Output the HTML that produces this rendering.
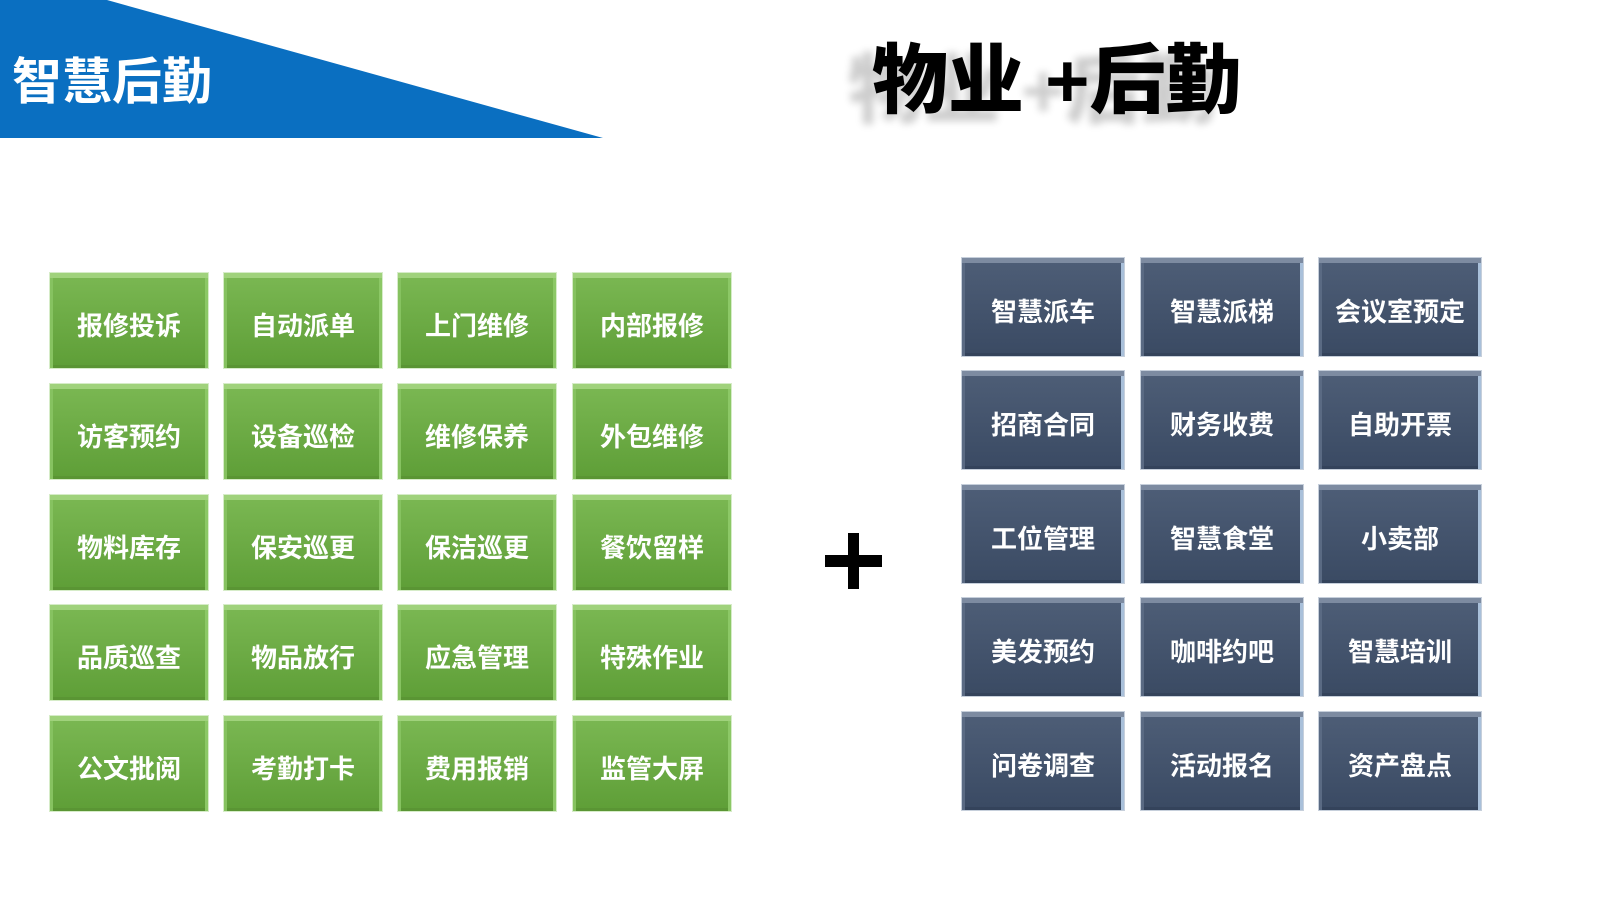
<!DOCTYPE html>
<html><head><meta charset="utf-8">
<style>
html,body{margin:0;padding:0;}
body{width:1600px;height:900px;position:relative;background:#fff;overflow:hidden;font-family:"Liberation Sans","Noto Sans CJK SC",sans-serif;}
.t{position:absolute;box-sizing:border-box;color:#fff;font-weight:bold;font-size:26px;display:flex;align-items:center;justify-content:center;padding-top:7px;letter-spacing:0px;font-family:"Liberation Sans","Noto Sans CJK SC",sans-serif;}
.g{width:158px;height:95px;background:linear-gradient(#7bb853,#5e9e37);
 box-shadow:inset 0 5px 0 #a0d27c, inset 3px 0 0 #86c260, inset -3px 0 0 #8cc866, inset 0 -3px 0 #5a9534, 0 0 0 1px #d6ecc8;}
.b{width:162px;height:98px;background:linear-gradient(#4e5e77,#3a4a63);
 box-shadow:inset 0 5px 0 #7d8ba1, inset 3px 0 0 #5a6a83, inset -3px 0 0 #a9c0da, inset 0 -3px 0 #34435b, 0 0 0 1px #c6cfdb;}
</style></head><body>
<svg width="620" height="145" style="position:absolute;left:0;top:0">
<polygon points="0,0 107,0 603,138 0,138" fill="#0a6fc1"/>
</svg>
<div style="position:absolute;left:12px;top:52px;font-size:50px;line-height:60px;color:#fff;font-weight:bold;font-family:'Liberation Sans','Noto Sans CJK SC',sans-serif;">智慧后勤</div>
<div style="position:absolute;left:872px;top:40px;font-size:76px;line-height:84px;color:#000;font-weight:900;white-space:pre;text-shadow:-24px 10px 8px rgba(0,0,0,0.2);font-family:'Liberation Sans','Noto Sans CJK SC',sans-serif;">物业 +后勤</div>

<div style="position:absolute;left:825px;top:555px;width:57px;height:12px;background:#000"></div>
<div style="position:absolute;left:848px;top:533px;width:11px;height:56px;background:#000"></div>

<div class="t g" style="left:50px;top:273px">报修投诉</div>
<div class="t g" style="left:224px;top:273px">自动派单</div>
<div class="t g" style="left:398px;top:273px">上门维修</div>
<div class="t g" style="left:573px;top:273px">内部报修</div>
<div class="t g" style="left:50px;top:384px">访客预约</div>
<div class="t g" style="left:224px;top:384px">设备巡检</div>
<div class="t g" style="left:398px;top:384px">维修保养</div>
<div class="t g" style="left:573px;top:384px">外包维修</div>
<div class="t g" style="left:50px;top:495px">物料库存</div>
<div class="t g" style="left:224px;top:495px">保安巡更</div>
<div class="t g" style="left:398px;top:495px">保洁巡更</div>
<div class="t g" style="left:573px;top:495px">餐饮留样</div>
<div class="t g" style="left:50px;top:605px">品质巡查</div>
<div class="t g" style="left:224px;top:605px">物品放行</div>
<div class="t g" style="left:398px;top:605px">应急管理</div>
<div class="t g" style="left:573px;top:605px">特殊作业</div>
<div class="t g" style="left:50px;top:716px">公文批阅</div>
<div class="t g" style="left:224px;top:716px">考勤打卡</div>
<div class="t g" style="left:398px;top:716px">费用报销</div>
<div class="t g" style="left:573px;top:716px">监管大屏</div>

<div class="t b" style="left:962px;top:258px">智慧派车</div>
<div class="t b" style="left:1141px;top:258px">智慧派梯</div>
<div class="t b" style="left:1319px;top:258px">会议室预定</div>
<div class="t b" style="left:962px;top:371px">招商合同</div>
<div class="t b" style="left:1141px;top:371px">财务收费</div>
<div class="t b" style="left:1319px;top:371px">自助开票</div>
<div class="t b" style="left:962px;top:485px">工位管理</div>
<div class="t b" style="left:1141px;top:485px">智慧食堂</div>
<div class="t b" style="left:1319px;top:485px">小卖部</div>
<div class="t b" style="left:962px;top:598px">美发预约</div>
<div class="t b" style="left:1141px;top:598px">咖啡约吧</div>
<div class="t b" style="left:1319px;top:598px">智慧培训</div>
<div class="t b" style="left:962px;top:712px">问卷调查</div>
<div class="t b" style="left:1141px;top:712px">活动报名</div>
<div class="t b" style="left:1319px;top:712px">资产盘点</div>
</body></html>
